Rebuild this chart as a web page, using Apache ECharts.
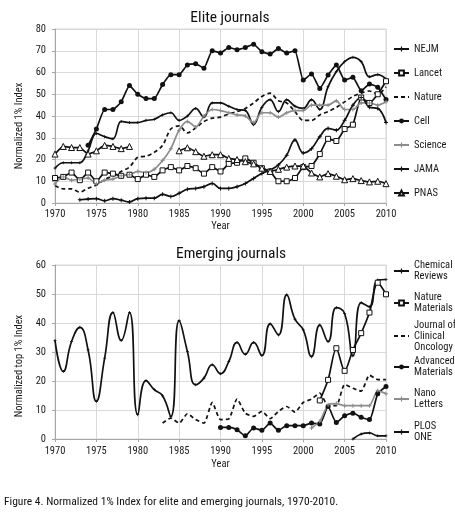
<!DOCTYPE html>
<html>
<head>
<meta charset="utf-8">
<script src="https://cdn.jsdelivr.net/npm/echarts@6/dist/echarts.min.js"></script>
<style>
  html, body { margin: 0; padding: 0; background: #fff; }
  #chart { width: 455px; height: 513px; }
</style>
</head>
<body>
<div id="chart"></div>
<script>
const FONT = '"Roboto Condensed", "Liberation Sans Narrow", "Arial Narrow", sans-serif'

// Elite journals, one value per year from the start year
const nejmStart = 1970
const nejm = [16, 18.5, 18.5, 18.5, 24, 32, 30.5, 29.5, 37.5, 37,
  37, 38, 38.5, 40.5, 41.5, 38, 40, 43.5, 39.5, 46,
  46, 44.5, 43, 42.5, 36, 44, 47.5, 42, 47.5, 44.5,
  43.5, 47.5, 43, 53.5, 60.5, 65, 67, 65, 58, 59, 57]

const lancetStart = 1970
const lancet = [11.5, 12, 14, 10.5, 14, 10, 14, 13.5, 12.5, 13,
  11, 13, 12, 15, 16.5, 15, 17, 16, 13.5, 16.5,
  14.5, 18, 18.5, 20.5, 18.5, 16, 14.5, 10, 10, 11.5,
  16.5, 17, 22.5, 29.5, 28.5, 34, 36, 48.5, 46, 50, 56]

const natureStart = 1970
const nature = [8, 6.5, 6.5, 5, 6.8, 8.3, 10.7, 12.5, 14.5, 16.5,
  21, 21.5, 23.3, 26.5, 34, 35.5, 32.2, 34.5, 37.5, 39,
  39.5, 41, 42, 43.5, 46, 49, 50.5, 47, 46, 42,
  38, 38, 40.5, 42, 44, 46.5, 49, 50.5, 51.5, 50, 53.5]

const cellStart = 1974
const cell = [26.5, 34, 43, 43, 46.5, 54,
  50, 48, 48, 54.5, 59, 59, 63.5, 64, 62, 70,
  69, 71.5, 70.5, 71.5, 73, 69.5, 68.5, 71, 69, 70,
  56.5, 59.3, 52.7, 58.8, 63.4, 56.5, 57.8, 51.6, 54.7, 53.2, 47.6]

const scienceStart = 1970
const science = [8.7, 12, 10.5, 11, 11.5, 9, 10.5, 11, 12.5, 13,
  14.5, 14, 15.5, 19.5, 25, 33.5, 37.5, 35, 40, 43,
  42.5, 41.5, 40.5, 40, 37, 41.5, 41.5, 39.5, 41.5, 42.5,
  42.5, 45, 45, 45, 47, 43, 43, 46, 46, 45, 46.5]

const jamaStart = 1973
const jama = [1.5, 1.8, 2, 1, 2, 1.3, 0.5,
  2, 2.2, 2.2, 4, 3, 4.5, 6.3, 6.7, 7.5, 9,
  6.7, 6.7, 7.5, 9, 11.3, 13.6, 15.2, 17.5, 22, 29,
  23, 25, 30.5, 34.3, 33.5, 38, 45, 48.5, 44, 43.5, 37]

const pnasStart = 1970
const pnas = [22.5, 26, 25.5, 25.5, 22.5, 24, 26.5, 26, 25, 26,
  null, null, null, null, null, 24, 25.4, 23.6, 21.5, 22.2,
  22.2, 20.5, 20, 19, 18, 16, 14.5, 15.5, 16.5, 17,
  17, 13.8, 12, 13.5, 12.3, 10.7, 11.2, 10.3, 9.7, 10, 8.9]

// Emerging journals
const chemRevStart = 1970
const chemRev = [34, 23.3, 33.6, 38.5, 30.7, 13, 27.9, 43.6, 34, 43.6,
  8.4, 20.1, 17, 14.9, 7.8, 40.8, 30.2, 18.7, 21, 25.6,
  22.5, 26.7, 33.3, 29.2, 33.3, 28.8, 39.7, 35.9, 49.7, 41.3,
  37.6, 28.4, 39.3, 33.6, 45.3, 43.3, 28.7, 47, 45.6, 54.8, 55]

const natMatStart = 2002
const natMat = [13.3, 20.4, 31.3, 23.5, 30.7, 36.5, 43.6, 53.9, 49.9]

const jcoStart = 1983
const jco = [5.5, 7.2, 5.5, 8.7, 6.7, 5.5, 12.6,
  6.7, 6.9, 13.8, 8.9, 7.8, 9.5, 7, 9.5, 11.2, 9.3,
  12.6, 13.8, 15.8, 11.5, 11.5, 18.8, 17.5, 16.5, 22, 20.5, 20.5]

const advMatStart = 1990
const advMat = [4, 4, 3.2, 1.1, 3.8, 3, 5.5, 3, 4.6, 4.6,
  4.6, 5.5, 5.2, 11.2, 5.7, 8, 8.9, 7.5, 6.7, 15.6, 18.1]

const nanoStart = 2001
const nano = [3.8, 6.1, 11.8, 12.2, 11.5, 11.5, 11.5, 11.5, 16.7, 15.6]

const plosStart = 2006
const plos = [0, 1.7, 2.1, 1.1, 1.1]

const eliteNames = ['NEJM', 'Lancet', 'Nature', 'Cell', 'Science', 'JAMA', 'PNAS']
const emergingNames = ['Chemical Reviews', 'Nature Materials', 'Journal of Clinical Oncology',
  'Advanced Materials', 'Nano Letters', 'PLOS ONE']
const emergingLabels = ['Chemical\nReviews', 'Nature\nMaterials', 'Journal of\nClinical\nOncology',
  'Advanced\nMaterials', 'Nano\nLetters', 'PLOS\nONE']

const PLUS = 'path://M-1,-4H1V-1H4V1H1V4H-1V1H-4V-1H-1Z'
const NOMARK = 'path://M0,0H1V1H0Z'   // hidden via opacity, keeps the legend icon a plain line
const BLACK = '#111'
const GRAY = '#8c8c8c'

const toPoints = (start, values) => values.map((v, i) => [start + i, v])

const makeLine = (name, start, values, axis, look) => ({
  name,
  type: 'line',
  xAxisIndex: axis,
  yAxisIndex: axis,
  data: toPoints(start, values),
  smooth: look.smooth === undefined ? 0.4 : look.smooth,
  connectNulls: false,
  symbol: look.symbol || NOMARK,
  symbolSize: look.size || 5,
  showSymbol: !!look.symbol,
  lineStyle: { color: look.color || BLACK, width: 1.7, type: look.dash ? [4, 3] : 'solid' },
  itemStyle: {
    color: look.fill || look.color || BLACK,
    borderColor: look.color || BLACK,
    borderWidth: look.fill ? 1 : 0,
    opacity: look.symbol ? 1 : 0
  },
  emphasis: { disabled: true }
})

const series = [
  makeLine('NEJM', nejmStart, nejm, 0, { symbol: PLUS, size: 3 }),
  makeLine('Lancet', lancetStart, lancet, 0, { symbol: 'rect', size: 5, fill: '#fff', smooth: 0.15 }),
  makeLine('Nature', natureStart, nature, 0, { dash: true, smooth: 0.3 }),
  makeLine('Cell', cellStart, cell, 0, { symbol: 'circle', size: 5, smooth: 0.15 }),
  makeLine('Science', scienceStart, science, 0, { symbol: PLUS, size: 4, color: GRAY, smooth: 0.3 }),
  makeLine('JAMA', jamaStart, jama, 0, { symbol: PLUS, size: 4 }),
  makeLine('PNAS', pnasStart, pnas, 0, { symbol: 'triangle', size: 6, fill: '#fff', smooth: 0.15 }),
  makeLine('Chemical Reviews', chemRevStart, chemRev, 1, { symbol: PLUS, size: 3, smooth: 0.5 }),
  makeLine('Nature Materials', natMatStart, natMat, 1, { symbol: 'rect', size: 5, fill: '#fff', smooth: 0.3 }),
  makeLine('Journal of Clinical Oncology', jcoStart, jco, 1, { dash: true, smooth: 0.2 }),
  makeLine('Advanced Materials', advMatStart, advMat, 1, { symbol: 'circle', size: 5, smooth: 0.2 }),
  makeLine('Nano Letters', nanoStart, nano, 1, { symbol: PLUS, size: 4, color: GRAY, smooth: 0.2 }),
  makeLine('PLOS ONE', plosStart, plos, 1, { symbol: PLUS, size: 3, smooth: 0.4 })
]

const legendText = { fontFamily: FONT, fontSize: 10.5, color: '#1a1a1a', lineHeight: 11 }

// first legend line sits level with the icon, so pad the text from the top
const emergingIcons = [271, 303, 336, 367, 399, 432]
const emergingLegends = emergingNames.map((name, i) => {
  const lines = emergingLabels[i].split('\n').length
  const pad = (lines - 1) * 11
  return {
    orient: 'vertical',
    left: 393,
    top: emergingIcons[i] - (lines * 11 + pad) / 2,
    padding: 0,
    itemWidth: 15,
    itemHeight: 6,
    selectedMode: false,
    data: [name],
    formatter: () => emergingLabels[i],
    textStyle: Object.assign({}, legendText, { padding: [pad, 0, 0, 0] })
  }
})

const axisGray = '#a6a6a6'
const splitGray = '#d9d9d9'

const makeX = (i, labelMargin, nameGap) => ({
  type: 'value',
  gridIndex: i,
  min: 1970,
  max: 2010,
  interval: 5,
  name: 'Year',
  nameLocation: 'middle',
  nameGap,
  nameTextStyle: { fontFamily: FONT, fontSize: 10.5, color: '#1a1a1a' },
  axisLine: { lineStyle: { color: axisGray } },
  axisTick: { show: true, length: 3, lineStyle: { color: axisGray } },
  axisLabel: { fontFamily: FONT, fontSize: 10.5, color: '#1a1a1a', margin: labelMargin, formatter: v => String(v) },
  splitLine: { show: true, lineStyle: { color: splitGray } }
})

const makeY = (i, max, name, shift) => ({
  type: 'value',
  gridIndex: i,
  min: 0,
  max,
  interval: 10,
  name,
  nameLocation: 'middle',
  nameGap: 29,
  nameTextStyle: { fontFamily: FONT, fontSize: 10.5, color: '#1a1a1a', padding: [0, shift, 0, 0] },
  axisLine: { show: true, lineStyle: { color: axisGray } },
  axisTick: { show: true, length: 3, lineStyle: { color: axisGray } },
  axisLabel: { fontFamily: FONT, fontSize: 10.5, color: '#1a1a1a', margin: 9 },
  splitLine: { show: true, lineStyle: { color: splitGray } }
})

const option = {
  animation: false,
  backgroundColor: '#fff',
  grid: [
    { left: 55, top: 29, width: 331, height: 174, show: true, borderColor: splitGray, borderWidth: 1 },
    { left: 55, top: 265, width: 331, height: 174, show: true, borderColor: splitGray, borderWidth: 1 }
  ],
  xAxis: [makeX(0, 6, 16), makeX(1, 7, 20)],
  yAxis: [makeY(0, 80, 'Normalized 1% Index', 20), makeY(1, 60, 'Normalized top 1% Index', 28)],
  legend: [{
    orient: 'vertical',
    left: 393,
    top: 43,
    padding: 0,
    itemWidth: 15,
    itemHeight: 6,
    itemGap: 12,
    selectedMode: false,
    data: eliteNames,
    textStyle: Object.assign({}, legendText, { lineHeight: 12 })
  }].concat(emergingLegends),
  graphic: [
    { type: 'text', x: 230, y: 18, style: { text: 'Elite journals', font: '15.5px ' + FONT, fill: '#111', align: 'center', verticalAlign: 'middle' } },
    { type: 'text', x: 231, y: 254, style: { text: 'Emerging journals', font: '15.5px ' + FONT, fill: '#111', align: 'center', verticalAlign: 'middle' } },
    { type: 'text', x: 4, y: 502, style: { text: 'Figure 4. Normalized 1% Index for elite and emerging journals, 1970-2010.', font: '11.5px ' + FONT, fill: '#111', align: 'left', verticalAlign: 'middle' } }
  ],
  series
}

const chart = echarts.init(document.getElementById('chart'))
chart.setOption(option)
</script>
</body>
</html>
